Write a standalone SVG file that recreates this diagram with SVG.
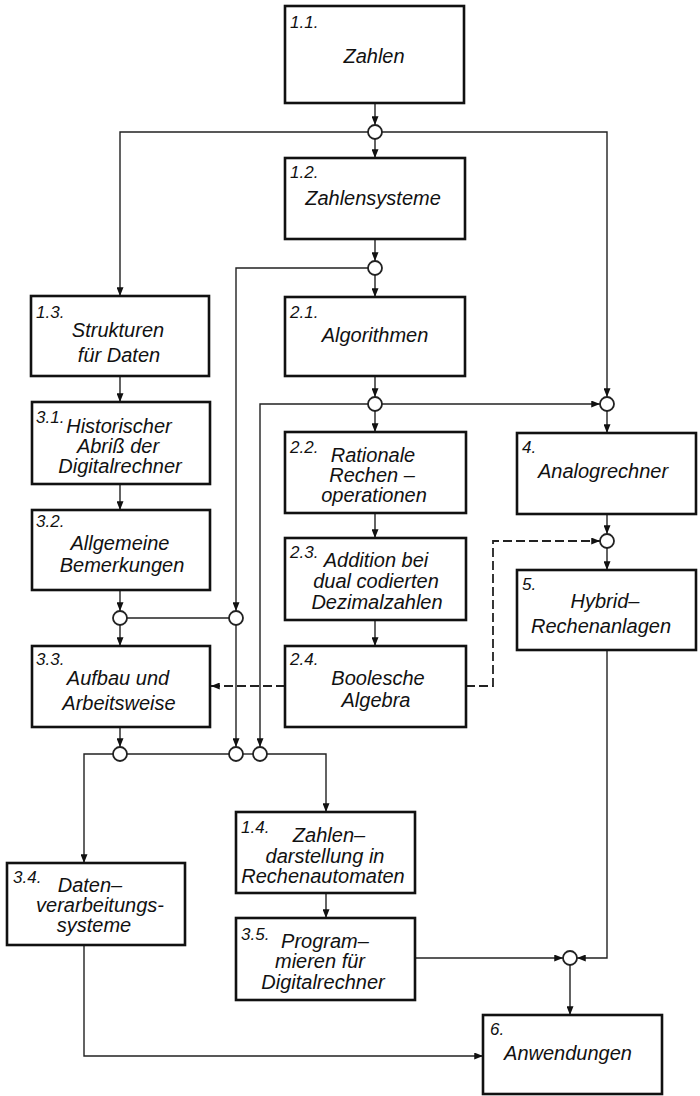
<svg xmlns="http://www.w3.org/2000/svg" width="700" height="1096" viewBox="0 0 700 1096">
  <style>
    .box { fill: #fff; stroke: #111; stroke-width: 2.6; }
    .num { font-family: "Liberation Sans", Arial, sans-serif; font-style: italic; font-size: 17px; fill: #111; }
    .lbl { font-family: "Liberation Sans", Arial, sans-serif; font-style: italic; font-size: 20px; fill: #111; text-anchor: middle; }
    .ln { fill: none; stroke: #222; stroke-width: 1.4; }
    .dash { fill: none; stroke: #222; stroke-width: 1.8; stroke-dasharray: 9 4; }
    .jn { fill: #fff; stroke: #222; stroke-width: 1.8; }
  </style>
  <defs>
    <marker id="ah" viewBox="0 0 10 8" refX="10" refY="4" markerWidth="9" markerHeight="7" markerUnits="userSpaceOnUse" orient="auto">
      <path d="M0,0 L10,4 L0,8 z" fill="#111"/>
    </marker>
  </defs>

  <!-- connectors -->
  <g id="connectors">
    <path class="ln" d="M375,103 V125" marker-end="url(#ah)"/>
    <path class="ln" d="M375,139 V158" marker-end="url(#ah)"/>
    <path class="ln" d="M368,132 H120 V296" marker-end="url(#ah)"/>
    <path class="ln" d="M382,132 H607 V397" marker-end="url(#ah)"/>
    <path class="ln" d="M375,239 V261" marker-end="url(#ah)"/>
    <path class="ln" d="M375,275 V297" marker-end="url(#ah)"/>
    <path class="ln" d="M368,268 H236 V611" marker-end="url(#ah)"/>
    <path class="ln" d="M236,625 V747" marker-end="url(#ah)"/>
    <path class="ln" d="M375,376 V397" marker-end="url(#ah)"/>
    <path class="ln" d="M375,411 V432" marker-end="url(#ah)"/>
    <path class="ln" d="M382,404 H600" marker-end="url(#ah)"/>
    <path class="ln" d="M368,404 H260 V747" marker-end="url(#ah)"/>
    <path class="ln" d="M607,411 V433" marker-end="url(#ah)"/>
    <path class="ln" d="M607,514 V534" marker-end="url(#ah)"/>
    <path class="ln" d="M607,548 V570" marker-end="url(#ah)"/>
    <path class="dash" d="M466,686 H493 V541 H600" marker-end="url(#ah)"/>
    <path class="ln" d="M375,513 V538" marker-end="url(#ah)"/>
    <path class="ln" d="M375,620 V646" marker-end="url(#ah)"/>
    <path class="ln" d="M120,376 V402" marker-end="url(#ah)"/>
    <path class="ln" d="M120,484 V510" marker-end="url(#ah)"/>
    <path class="ln" d="M120,590 V611" marker-end="url(#ah)"/>
    <path class="ln" d="M120,625 V646" marker-end="url(#ah)"/>
    <path class="ln" d="M127,618 H229"/>
    <path class="dash" d="M285,686 H211" marker-end="url(#ah)"/>
    <path class="ln" d="M120,727 V747" marker-end="url(#ah)"/>
    <path class="ln" d="M127,754 H229"/>
    <path class="ln" d="M243,754 H253"/>
    <path class="ln" d="M113,754 H84 V863" marker-end="url(#ah)"/>
    <path class="ln" d="M267,754 H326 V812" marker-end="url(#ah)"/>
    <path class="ln" d="M326,893 V918" marker-end="url(#ah)"/>
    <path class="ln" d="M415,958 H563" marker-end="url(#ah)"/>
    <path class="ln" d="M607,650 V958 H577" marker-end="url(#ah)"/>
    <path class="ln" d="M570,965 V1015" marker-end="url(#ah)"/>
    <path class="ln" d="M84,945 V1056 H483" marker-end="url(#ah)"/>
  </g>

  <!-- junction points -->
  <g id="junctions">
    <circle class="jn" cx="375" cy="132" r="7"/>
    <circle class="jn" cx="375" cy="268" r="7"/>
    <circle class="jn" cx="375" cy="404" r="7"/>
    <circle class="jn" cx="607" cy="404" r="7"/>
    <circle class="jn" cx="607" cy="541" r="7"/>
    <circle class="jn" cx="120" cy="618" r="7"/>
    <circle class="jn" cx="236" cy="618" r="7"/>
    <circle class="jn" cx="120" cy="754" r="7"/>
    <circle class="jn" cx="236" cy="754" r="7"/>
    <circle class="jn" cx="260" cy="754" r="7"/>
    <circle class="jn" cx="570" cy="958" r="7"/>
  </g>

  <g id="n1-1">
    <rect class="box" x="285" y="6" width="179" height="97"/>
    <text class="num" x="290" y="28">1.1.</text>
    <text class="lbl" x="374" y="63">Zahlen</text>
  </g>
  <g id="n1-2">
    <rect class="box" x="285" y="158" width="180" height="81"/>
    <text class="num" x="290" y="178">1.2.</text>
    <text class="lbl" x="373" y="205">Zahlensysteme</text>
  </g>
  <g id="n2-1">
    <rect class="box" x="285" y="297" width="180" height="79"/>
    <text class="num" x="290" y="318">2.1.</text>
    <text class="lbl" x="375" y="342">Algorithmen</text>
  </g>
  <g id="n1-3">
    <rect class="box" x="31" y="296" width="178" height="80"/>
    <text class="num" x="36" y="318">1.3.</text>
    <text class="lbl" x="118" y="337">Strukturen</text>
    <text class="lbl" x="119" y="362">für Daten</text>
  </g>
  <g id="n3-1">
    <rect class="box" x="32" y="402" width="178" height="82"/>
    <text class="num" x="36" y="423">3.1.</text>
    <text class="lbl" x="119" y="433">Historischer</text>
    <text class="lbl" x="118" y="453">Abriß der</text>
    <text class="lbl" x="120" y="473">Digitalrechner</text>
  </g>
  <g id="n3-2">
    <rect class="box" x="32" y="510" width="178" height="80"/>
    <text class="num" x="36" y="527">3.2.</text>
    <text class="lbl" x="120" y="550">Allgemeine</text>
    <text class="lbl" x="122" y="572">Bemerkungen</text>
  </g>
  <g id="n2-2">
    <rect class="box" x="285" y="432" width="181" height="81"/>
    <text class="num" x="290" y="453">2.2.</text>
    <text class="lbl" x="373" y="462">Rationale</text>
    <text class="lbl" x="372" y="482">Rechen –</text>
    <text class="lbl" x="374" y="502">operationen</text>
  </g>
  <g id="n2-3">
    <rect class="box" x="285" y="538" width="181" height="82"/>
    <text class="num" x="290" y="558">2.3.</text>
    <text class="lbl" x="376" y="567">Addition bei</text>
    <text class="lbl" x="376" y="588">dual codierten</text>
    <text class="lbl" x="377" y="609">Dezimalzahlen</text>
  </g>
  <g id="n2-4">
    <rect class="box" x="285" y="646" width="181" height="81"/>
    <text class="num" x="290" y="665">2.4.</text>
    <text class="lbl" x="378" y="685">Boolesche</text>
    <text class="lbl" x="376" y="707">Algebra</text>
  </g>
  <g id="n3-3">
    <rect class="box" x="32" y="646" width="178" height="81"/>
    <text class="num" x="36" y="665">3.3.</text>
    <text class="lbl" x="118" y="685">Aufbau und</text>
    <text class="lbl" x="119" y="710">Arbeitsweise</text>
  </g>
  <g id="n4">
    <rect class="box" x="517" y="433" width="179" height="81"/>
    <text class="num" x="522" y="453">4.</text>
    <text class="lbl" x="603" y="478">Analogrechner</text>
  </g>
  <g id="n5">
    <rect class="box" x="517" y="570" width="179" height="80"/>
    <text class="num" x="522" y="590">5.</text>
    <text class="lbl" x="605" y="608">Hybrid–</text>
    <text class="lbl" x="601" y="633">Rechenanlagen</text>
  </g>
  <g id="n1-4">
    <rect class="box" x="236" y="812" width="179" height="81"/>
    <text class="num" x="241" y="833">1.4.</text>
    <text class="lbl" x="329" y="842">Zahlen–</text>
    <text class="lbl" x="325" y="863">darstellung in</text>
    <text class="lbl" x="323" y="883">Rechenautomaten</text>
  </g>
  <g id="n3-5">
    <rect class="box" x="236" y="918" width="179" height="82"/>
    <text class="num" x="241" y="940">3.5.</text>
    <text class="lbl" x="325" y="948">Program–</text>
    <text class="lbl" x="320" y="968">mieren für</text>
    <text class="lbl" x="323" y="989">Digitalrechner</text>
  </g>
  <g id="n3-4">
    <rect class="box" x="7" y="863" width="178" height="82"/>
    <text class="num" x="13" y="883">3.4.</text>
    <text class="lbl" x="90" y="892">Daten–</text>
    <text class="lbl" x="100" y="912">verarbeitungs-</text>
    <text class="lbl" x="94" y="932">systeme</text>
  </g>
  <g id="n6">
    <rect class="box" x="483" y="1015" width="179" height="79"/>
    <text class="num" x="490" y="1035">6.</text>
    <text class="lbl" x="568" y="1060">Anwendungen</text>
  </g>
</svg>
